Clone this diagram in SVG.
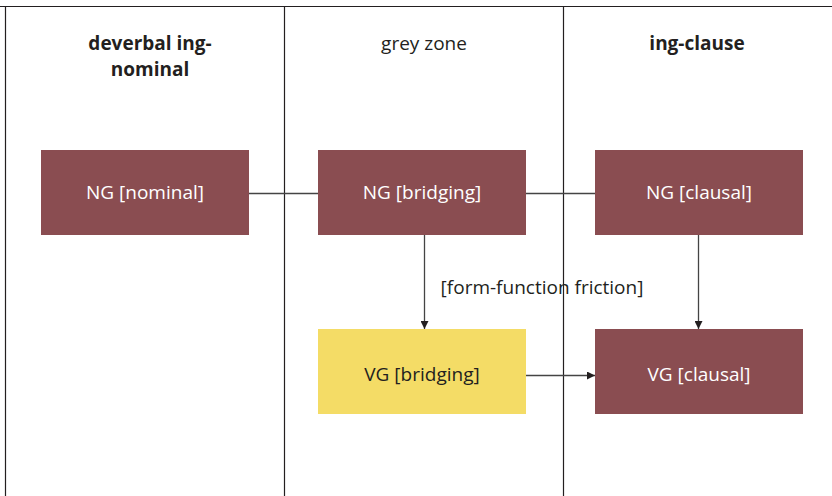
<svg xmlns="http://www.w3.org/2000/svg" width="832" height="496" viewBox="0 0 832 496">
<style>
text{font-family:"Open Sans","Noto Sans",sans-serif;font-size:19px;text-anchor:middle}
.h{fill:#231f20}
.b{font-weight:bold}
.n{fill:#8a4d51}
.y{fill:#f4dc66}
.w{fill:#ffffff}
.k{fill:#231f20}
.ln{stroke:#231f20;stroke-width:1.2;fill:none}
.c{stroke:#444;stroke-width:1.3;fill:none}
</style>
<defs>
<marker id="a" viewBox="0 0 10 10" refX="10" refY="5" markerWidth="8" markerHeight="8" markerUnits="userSpaceOnUse" orient="auto"><path d="M0,0L10,5L0,10z" fill="#231f20"/></marker>
</defs>
<rect width="832" height="496" fill="#fff"/>
<g id="frame">
<path class="ln" d="M0,6.5H832M5.5,6.5V496M284.5,6.5V496M563.5,6.5V496"/>
<text class="h b" x="150" y="50">deverbal ing-</text>
<text class="h b" x="150" y="76">nominal</text>
<text class="h" x="424" y="50">grey zone</text>
<text class="h b" x="697" y="50">ing-clause</text>
</g>
<g id="connectors">
<path class="c" d="M249,193.5H318M526,193.5H595"/>
<path class="c" d="M424.5,235V329" marker-end="url(#a)"/>
<path class="c" d="M698.5,235V329" marker-end="url(#a)"/>
<path class="c" d="M526,375.5H595" marker-end="url(#a)"/>
<text class="k" x="542" y="294">[form-function friction]</text>
</g>
<g id="ng-nominal"><rect class="n" x="41" y="150" width="208" height="85"/><text class="w" x="145" y="199">NG [nominal]</text></g>
<g id="ng-bridging"><rect class="n" x="318" y="150" width="208" height="85"/><text class="w" x="422" y="199">NG [bridging]</text></g>
<g id="ng-clausal"><rect class="n" x="595" y="150" width="208" height="85"/><text class="w" x="699" y="199">NG [clausal]</text></g>
<g id="vg-bridging"><rect class="y" x="318" y="329" width="208" height="85"/><text class="k" x="422" y="381">VG [bridging]</text></g>
<g id="vg-clausal"><rect class="n" x="595" y="329" width="208" height="85"/><text class="w" x="699" y="381">VG [clausal]</text></g>
</svg>
